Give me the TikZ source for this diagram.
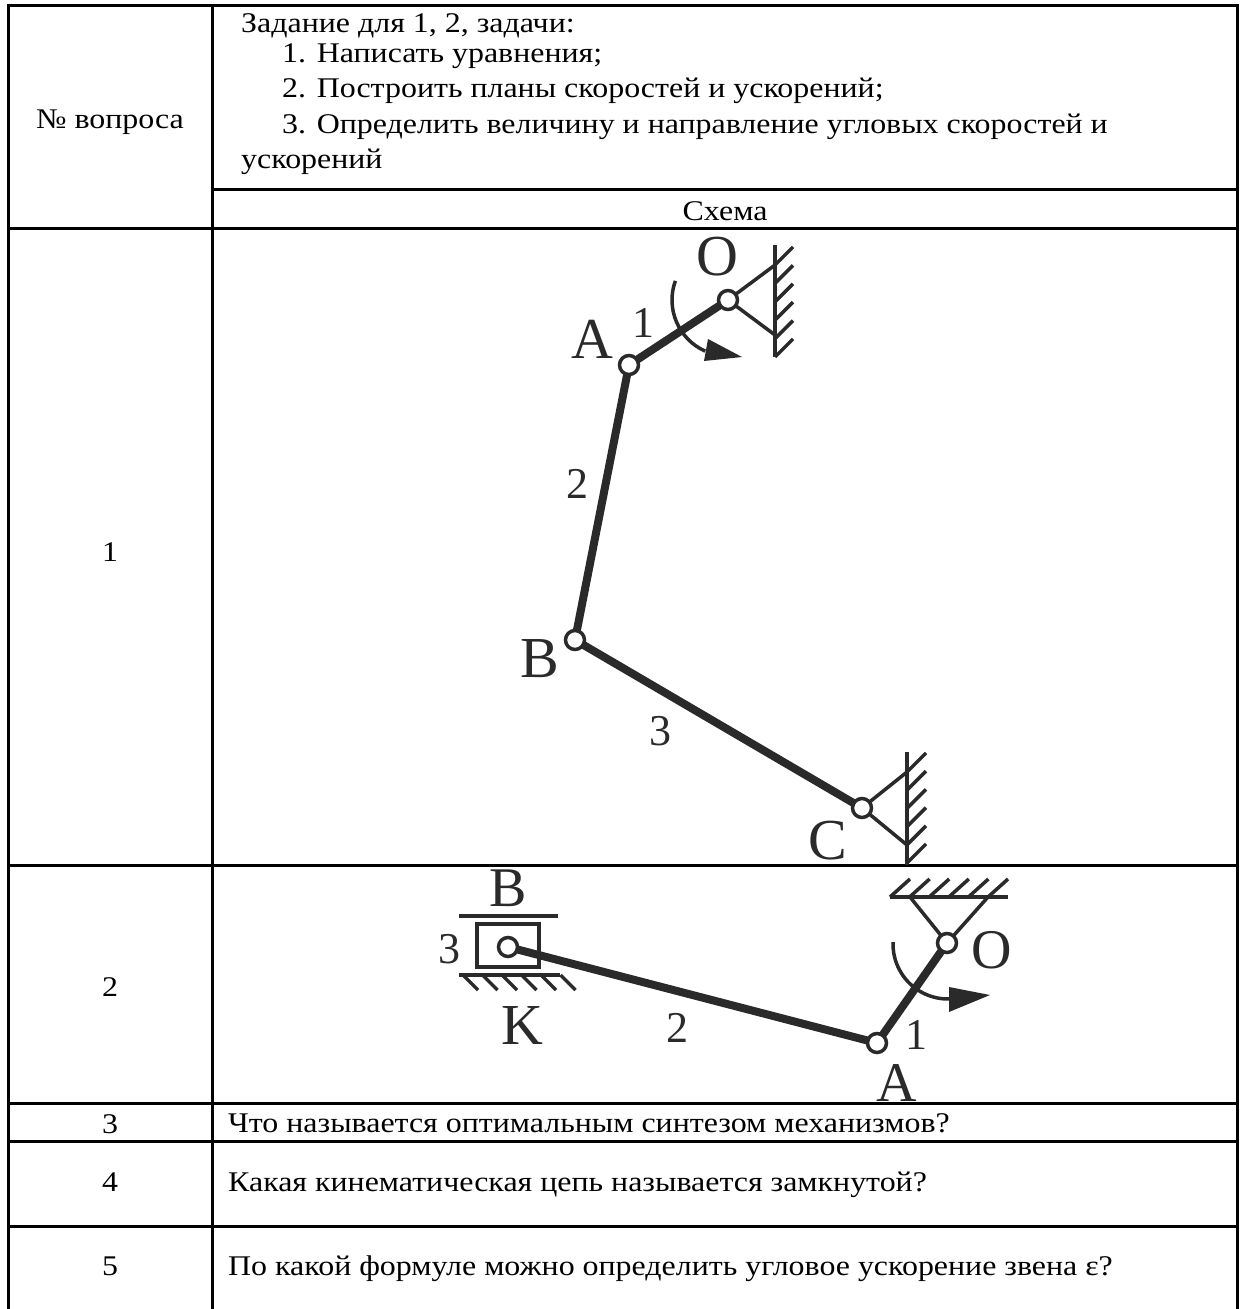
\documentclass[tikz,border=0pt]{standalone}
\usepackage{fontspec}
\setmainfont{Liberation Serif}
\newfontfamily\tblfont[FakeStretch=1.12]{Liberation Serif}
\definecolor{mech}{RGB}{42,42,42}
\tikzset{
  grid/.style={line width=3pt, black, line cap=rect},
  tbl/.style={font=\tblfont\fontsize{28.5}{32}\selectfont, inner sep=0pt, anchor=base west},
  tblc/.style={font=\tblfont\fontsize{28.5}{32}\selectfont, inner sep=0pt, anchor=base},
  link/.style={line width=8pt, mech},
  thin/.style={line width=3.5pt, mech},
  pivot/.style={circle, draw=mech, fill=white, line width=3.5pt, minimum size=19pt, inner sep=0pt},
  big/.style={font=\fontsize{58}{58}\selectfont, inner sep=0pt, text=mech},
  num/.style={font=\fontsize{44}{44}\selectfont, inner sep=0pt, text=mech},
}
\begin{document}
\begin{tikzpicture}[x=1pt,y=-1pt]
\useasboundingbox (0,0) rectangle (1240,1309);
% ---- table ----
\draw[grid] (8,5) -- (1237,5);
\draw[grid] (8,5) -- (8,1309);
\draw[grid] (212,5) -- (212,1309);
\draw[grid] (1237,5) -- (1237,1309);
\draw[grid] (212,189) -- (1237,189);
\draw[grid] (8,228) -- (1237,228);
\draw[grid] (8,865) -- (1237,865);
\draw[grid] (8,1103) -- (1237,1103);
\draw[grid] (8,1141) -- (1237,1141);
\draw[grid] (8,1226) -- (1237,1226);
% header texts
\node[tblc] (hq) at (110,128) {№ вопроса};
\node[tbl] (h0) at (241,32) {Задание для 1, 2, задачи:};
\node[tbl] (h1) at (282,62) {1. Написать уравнения;};
\node[tbl] (h2) at (282,97) {2. Построить планы скоростей и ускорений;};
\node[tbl] (h3) at (282,133) {3. Определить величину и направление угловых скоростей и};
\node[tbl] (h4) at (241,168) {ускорений};
\node[tblc] (hs) at (725,220) {Схема};
\node[tblc] (r1) at (110,561) {1};
\node[tblc] (r2) at (110,996) {2};
\node[tblc] (r3) at (110,1133) {3};
\node[tblc] (r4) at (110,1191) {4};
\node[tblc] (r5) at (110,1275) {5};
\node[tbl] (q3) at (228,1132) {Что называется оптимальным синтезом механизмов?};
\node[tbl] (q4) at (228,1191) {Какая кинематическая цепь называется замкнутой?};
\node[tbl] (q5) at (228,1275) {По какой формуле можно определить угловое ускорение звена ε?};
% ---- mechanism 1 ----
\coordinate (O) at (728,300);
\coordinate (A) at (629,365);
\coordinate (B) at (575,640);
\coordinate (C) at (862,808);
% support at O
\draw[thin] (775,245) -- (775,357);
\foreach \i in {0,...,5} \draw[thin] (775,265+18.4*\i) -- (793,247+18.4*\i);
\draw[thin] (775,265) -- (O) -- (775,335);
% support at C
\draw[thin] (907,752) -- (907,865);
\foreach \i in {0,...,5} \draw[thin] (907,772+18.2*\i) -- (926,753+18.2*\i);
\draw[thin] (907,772) -- (C) -- (907,845);
% links
\draw[link] (A) -- (O);
\draw[link] (A) -- (B);
\draw[link] (B) -- (C);
% angular arrow
\draw[thin] (728,300) ++(200:56) arc[start angle=200, end angle=114, radius=56];
\fill[mech] (742,357) -- (704,361) -- (708,339) -- cycle;
\node[pivot] (pO) at (O) {};
\node[pivot] (pA) at (A) {};
\node[pivot] (pB) at (B) {};
\node[pivot] (pC) at (C) {};
\node[big] (lO) at (717,257) {O};
\node[big] (lA) at (592,339) {A};
\node[num] (l1) at (643,323) {1};
\node[num] (l2) at (577,484) {2};
\node[big] (lB) at (540,659) {B};
\node[num] (l3) at (660,731) {3};
\node[big] (lC) at (828,841) {C};
% ---- mechanism 2 ----
\coordinate (B2) at (508,947);
\coordinate (A2) at (877,1043);
\coordinate (O2) at (947,943);
% slider guides
\draw[thin] (459,916) -- (558,916);
\draw[thin] (459,975) -- (560,975);
\foreach \i in {0,...,5} \draw[thin] (463+19.5*\i,975) -- (478+19.5*\i,990);
\draw[thin] (477,924) rectangle (539,967);
% ground at O2
\draw[thin] (890,897) -- (1008,897);
\foreach \i in {0,...,5} \draw[thin] (890+19.6*\i,897) -- (910+19.6*\i,879);
\draw[thin] (910,897) -- (O2) -- (988,897);
% links
\draw[link] (B2) -- (A2);
\draw[link] (A2) -- (O2);
% angular arrow
\draw[thin] (948,944) ++(182:55) arc[start angle=182, end angle=88, radius=55];
\fill[mech] (990,995) -- (949,1012) -- (949,987) -- cycle;
\node[pivot] (pB2) at (B2) {};
\node[pivot] (pA2) at (A2) {};
\node[pivot] (pO2) at (O2) {};
\node[big, font=\fontsize{56}{56}\selectfont] (lB2) at (508,888) {B};
\node[num] (l32) at (449,949) {3};
\node[big] (lK2) at (522,1025) {K};
\node[num] (l22) at (677,1028) {2};
\node[num] (l12) at (916,1035) {1};
\node[big, font=\fontsize{56}{56}\selectfont] (lO2) at (992,950) {O};
\node[big, font=\fontsize{56}{56}\selectfont] (lA2) at (897,1083) {A};
\end{tikzpicture}
\end{document}
